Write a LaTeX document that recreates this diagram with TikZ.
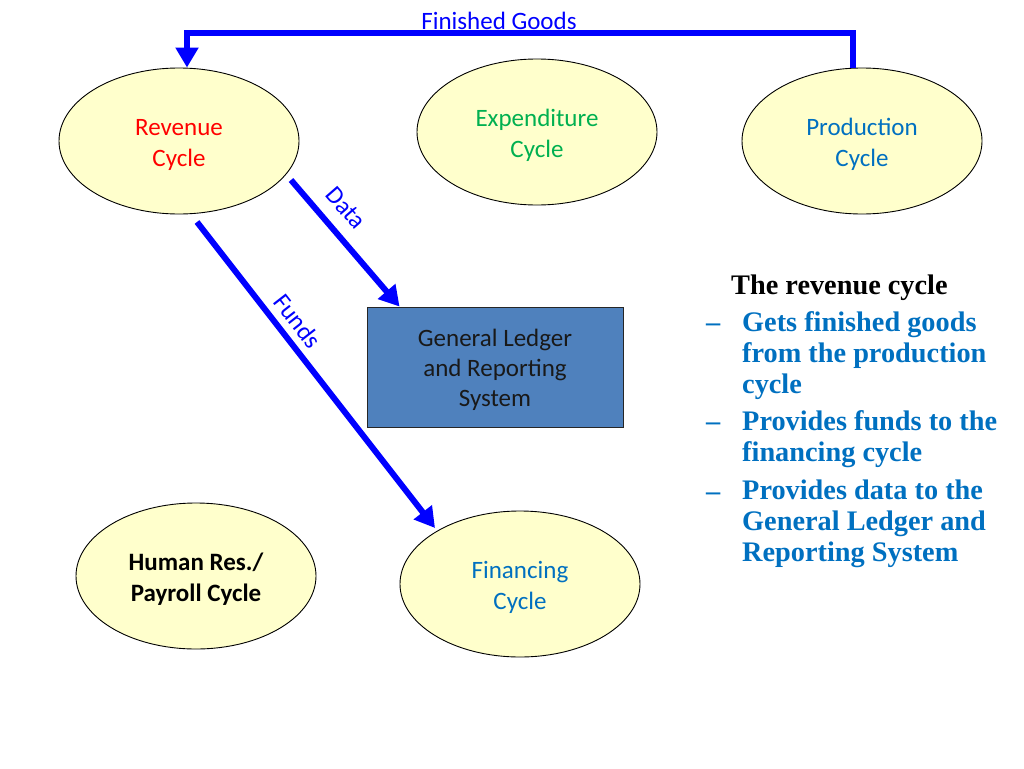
\documentclass[tikz,border=0pt]{standalone}
\usepackage{fontspec}
\setmainfont{Carlito}
\newfontfamily\serifbold{Liberation Serif}
\usetikzlibrary{shapes.geometric,arrows.meta}
\definecolor{cyfill}{HTML}{FFFFCC}
\definecolor{glfill}{HTML}{4F81BD}
\definecolor{txtblue}{HTML}{0070C0}
\definecolor{txtgreen}{HTML}{00B050}
\definecolor{arrblue}{HTML}{0000FF}
\newcommand{\tstart}{\rule{0pt}{25pt}}
\newcommand{\tend}{\rule[-6pt]{0pt}{6pt}}
\tikzset{
  cyc/.style={ellipse, draw=black, line width=0.9pt, fill=cyfill, minimum width=240pt, minimum height=146pt, inner sep=0pt, align=center, font=\fontsize{25}{31}\selectfont},
  glbox/.style={rectangle, draw=black!85, line width=0.9pt, fill=glfill, minimum width=256pt, minimum height=120pt, inner sep=0pt, align=center, font=\fontsize{25}{30}\selectfont, text=black!90},
  flow/.style={draw=arrblue, line width=6pt, -{Triangle[length=20pt,width=22pt]}},
  flowlbl/.style={text=arrblue, font=\fontsize{25}{28}\selectfont, inner sep=0pt},
  rtxt/.style={font=\serifbold\bfseries\fontsize{28.3}{31}\selectfont, inner sep=0pt, align=left},
}
\begin{document}
\begin{tikzpicture}[x=1pt,y=-1pt]
\useasboundingbox (0,0) rectangle (1024,768);
\node[cyc, text=red] (rev) at (179,141) {\tstart Revenue\\Cycle\tend};
\node[cyc, text=txtgreen] (exp) at (537,132) {\tstart Expenditure\\Cycle\tend};
\node[cyc, text=txtblue] (prod) at (862,141) {\tstart Production\\Cycle\tend};
\node[cyc, font=\bfseries\fontsize{25}{31}\selectfont] (hr) at (196,576) {\tstart Human Res./\\Payroll Cycle\tend};
\node[cyc, text=txtblue] (fin) at (520,584) {\tstart Financing\\Cycle\tend};
\node[glbox] (gl) at (495,367) {\tstart General Ledger\\and Reporting\\System\tend};
% Finished goods
\coordinate (fgs) at ([xshift=-9pt]prod.north);
\coordinate (fge) at ([xshift=8pt]rev.north);
\draw[flow] (fgs) -- ++(0,-35) -| (fge);
\node[flowlbl] (fgl) at (499,21) {Finished Goods};
% Data
\coordinate (ds) at (291,180);
\coordinate (de) at ([xshift=33pt]gl.north west);
\draw[flow] (ds) -- (de);
\node[flowlbl, rotate=-49] (dl) at (346,208) {Data};
% Funds
\coordinate (fs) at (197,222);
\coordinate (fe) at (435,528);
\draw[flow] (fs) -- (fe);
\node[flowlbl, rotate=-52] (fl) at (298,321) {Funds};
% Right text
\node[rtxt, anchor=north west] (t0) at (731,275) {The revenue cycle};
\node[rtxt, text=txtblue, anchor=north west] (d1) at (706,311) {–\vphantom{dfh}};
\node[rtxt, text=txtblue, anchor=north west] (i1) at (742,311) {Gets finished goods\\from the production\\cycle};
\node[rtxt, text=txtblue, anchor=north west] (d2) at (706,410) {–\vphantom{dfh}};
\node[rtxt, text=txtblue, anchor=north west] (i2) at (742,410) {Provides funds to the\\financing cycle};
\node[rtxt, text=txtblue, anchor=north west] (d3) at (706,480) {–\vphantom{dfh}};
\node[rtxt, text=txtblue, anchor=north west] (i3) at (742,480) {Provides data to the\\General Ledger and\\Reporting System};
\end{tikzpicture}
\end{document}
